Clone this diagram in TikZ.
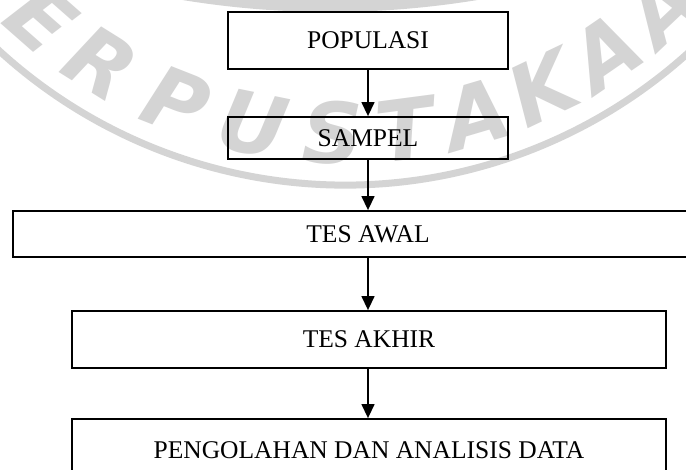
\documentclass[tikz,border=0pt]{standalone}
\usepackage{fontspec}
\setmainfont{Liberation Serif}
\newfontfamily\wmfont{DejaVu Sans}
\usetikzlibrary{arrows.meta}
\tikzset{
  flowbox/.style={draw=black, line width=1.8pt, rectangle, inner sep=0pt, font=\fontsize{25.5}{30}\selectfont},
  flowarrow/.style={line width=1.4pt, -{Triangle[length=14pt,width=13pt]}},
  wmk/.style={text=black!17, font=\wmfont\bfseries\itshape\fontsize{84}{84}\selectfont, inner sep=0pt},
  wmline/.style={draw=black!17}
}
\begin{document}
\begin{tikzpicture}[x=1pt,y=1pt]
\path[use as bounding box, clip] (0,0) rectangle (686,470);
\fill[white] (0,0) rectangle (686,470);
% watermark
\coordinate (wc) at (345,797);
\coordinate (wc2) at (330,1370);
\draw[wmline, line width=20pt] ([shift={(wc2)}]250:902pt) arc[start angle=250, end angle=290, radius=902pt];
\draw[wmline, line width=7pt] ([shift={(wc)}]205:512pt) arc[start angle=205, end angle=335, radius=512pt];
\foreach \a/\l [count=\i] in {-50.5/P,-41.3/E,-32/R,-21.5/P,-11.5/U,-1.5/S,7.5/T,16.5/A,25.5/K,34.5/A,43.5/A,52.5/N}{
  \node[wmk, rotate=\a] (wm\i) at ([shift={(wc)}]270+\a:460pt) {\l};
}
% flow chart
\node[flowbox, minimum width=280pt, minimum height=57pt] (pop) at (368,429.5) {POPULASI};
\node[flowbox, minimum width=280pt, minimum height=42pt] (samp) at (368,332) {SAMPEL};
\node[flowbox, minimum width=710pt, minimum height=46pt] (awal) at (368,236) {TES AWAL};
\node[flowbox, minimum width=594pt, minimum height=57pt] (akhir) at (369,130.5) {TES AKHIR};
\node[flowbox, minimum width=594pt, minimum height=62pt] (olah) at (369,20) {PENGOLAHAN DAN ANALISIS DATA};
\draw[flowarrow] (pop.south) -- (samp.north);
\draw[flowarrow] (samp.south) -- (samp.south |- awal.north);
\draw[flowarrow] (awal.south -| pop.south) -- (akhir.north -| pop.south);
\draw[flowarrow] (akhir.south -| pop.south) -- (olah.north -| pop.south);
\end{tikzpicture}
\end{document}
